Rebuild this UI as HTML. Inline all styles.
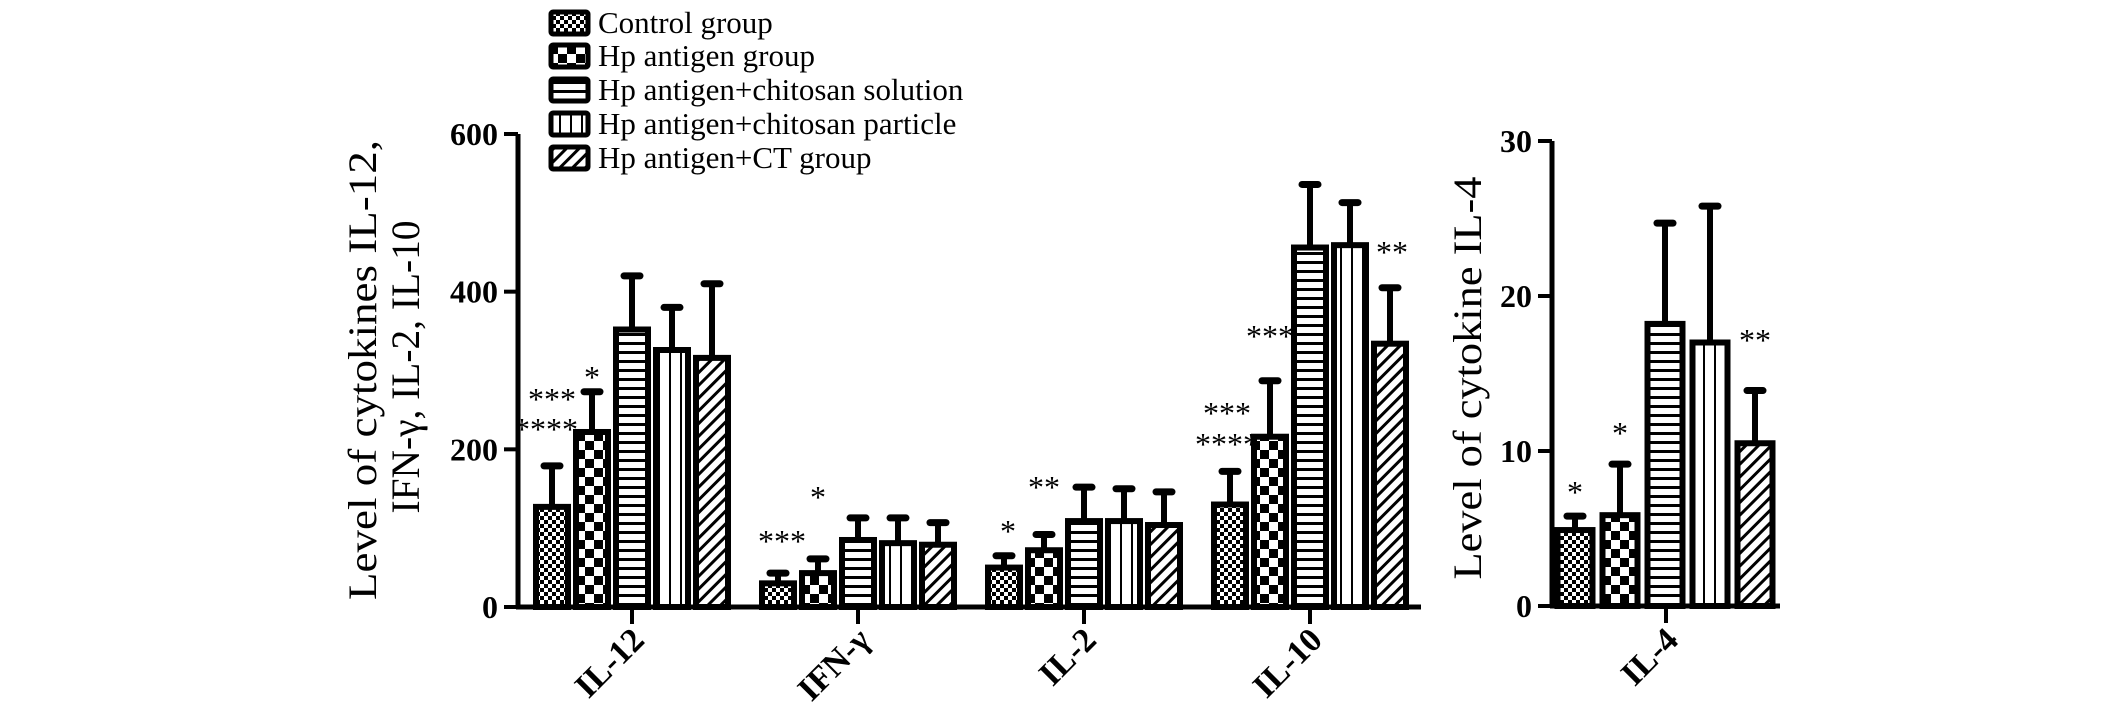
<!DOCTYPE html>
<html><head><meta charset="utf-8"><style>
html,body{margin:0;padding:0;background:#fff;}
svg{display:block;font-family:"Liberation Serif","DejaVu Serif",serif;}
</style></head><body>
<svg id="chart" width="2126" height="714" viewBox="0 0 2126 714">
<defs>
<pattern id="p0" width="8" height="8" patternUnits="userSpaceOnUse"><rect width="8" height="8" fill="#fff"/><rect width="4" height="4" fill="#000"/><rect x="4" y="4" width="4" height="4" fill="#000"/></pattern>
<pattern id="p1" width="18" height="18" patternUnits="userSpaceOnUse"><rect width="18" height="18" fill="#fff"/><rect width="9" height="9" fill="#000"/><rect x="9" y="9" width="9" height="9" fill="#000"/></pattern>
<pattern id="p2" width="10" height="9" patternUnits="userSpaceOnUse"><rect width="10" height="9" fill="#fff"/><rect width="10" height="3" fill="#000"/></pattern>
<pattern id="p3" width="11" height="10" patternUnits="userSpaceOnUse"><rect width="11" height="10" fill="#fff"/><rect x="9" width="3" height="10" fill="#000"/></pattern>
<pattern id="p4" width="9" height="9" patternUnits="userSpaceOnUse" patternTransform="rotate(45)"><rect width="9" height="9" fill="#fff"/><rect width="3" height="9" fill="#000"/></pattern>
</defs>
<g id="plot"></g>
</svg>
<script>
const categories = ["IL-12","IFN-γ","IL-2","IL-10"];
const groups = ["Control group","Hp antigen group","Hp antigen+chitosan solution","Hp antigen+chitosan particle","Hp antigen+CT group"];
const means = [[127,222,352,326,316],[30,43,85,81,79],[50,72,109,109,104],[130,216,456,459,334]];
const errs  = [[179,273,420,380,410],[43,61,113,113,107],[65,92,152,150,146],[172,287,536,513,405]];
const il4Means = [4.9,5.86,18.2,17.0,10.5];
const il4Errs  = [5.8,9.15,24.7,25.8,13.9];
const leftTicks = [0,200,400,600];
const rightTicks = [0,10,20,30];
const sigRight = [["*",0],["*",1],["**",4]];

const NS="http://www.w3.org/2000/svg";
const g=document.getElementById('plot');
function el(t,a,txt){const e=document.createElementNS(NS,t);for(const k in a)e.setAttribute(k,a[k]);if(txt!=null)e.textContent=txt;g.appendChild(e);return e;}
const yL=v=>607-v*473/600;
const yR=v=>606-v*15.5;
const xL=(c,i)=>632+c*226+(i-2)*40;
const xR=i=>1665+(i-2)*45;

function bar(x,w,top,errTop,base,pi,name){
  const l=el('line',{x1:x,x2:x,y1:top,y2:errTop,stroke:'#000','stroke-width':6});
  
  
  const c=el('line',{x1:x-8,x2:x+8,y1:errTop,y2:errTop,stroke:'#000','stroke-width':7,'stroke-linecap':'round'});
  
  
  const r=el('rect',{x:x-w/2,y:top,width:w,height:base-top,fill:'url(#p'+pi+')',stroke:'#000','stroke-width':6});
  
  
}
function star(txt,x,yc){const t=el('text',{x:x,y:yc+17,'font-size':32,'text-anchor':'middle'},txt);
  
  }

let a=el('line',{x1:518,x2:518,y1:yL(600),y2:609,stroke:'#000','stroke-width':5});


a=el('line',{x1:516,x2:1421,y1:607,y2:607,stroke:'#000','stroke-width':5});


leftTicks.forEach(v=>{
  el('line',{x1:504,x2:518,y1:yL(v),y2:yL(v),stroke:'#000','stroke-width':4});
  const t=el('text',{x:498,y:yL(v)+11,'font-size':32,'font-weight':'bold','text-anchor':'end'},String(v));
  
  
});
categories.forEach((c,ci)=>{
  const cx=632+ci*226;
  el('line',{x1:cx,x2:cx,y1:607,y2:624,stroke:'#000','stroke-width':4});
  const t=el('text',{x:cx+14,y:642,'font-size':34,'font-weight':'bold','text-anchor':'end',transform:'rotate(-45 '+(cx+14)+' 642)'},c);
  
  
  means[ci].forEach((m,i)=>bar(xL(ci,i),32,yL(m),yL(errs[ci][i]),607,i,'bar-'+ci+'-'+i));
});
star("***",552,393);star("****",546,423);star("*",592,371);
star("***",782,535);star("*",818,491);
star("*",1008,525);star("**",1044,481);
star("***",1227,407);star("****",1227,438);star("***",1270,330);star("**",1392,246);

a=el('line',{x1:1552,x2:1552,y1:yR(30),y2:608,stroke:'#000','stroke-width':5});


a=el('line',{x1:1550,x2:1780,y1:606,y2:606,stroke:'#000','stroke-width':5});


rightTicks.forEach(v=>{
  el('line',{x1:1538,x2:1552,y1:yR(v),y2:yR(v),stroke:'#000','stroke-width':4});
  const t=el('text',{x:1532,y:yR(v)+11,'font-size':32,'font-weight':'bold','text-anchor':'end'},String(v));
  
  
});
el('line',{x1:1666,x2:1666,y1:606,y2:623,stroke:'#000','stroke-width':4});
let t4=el('text',{x:1680,y:642,'font-size':34,'font-weight':'bold','text-anchor':'end',transform:'rotate(-45 1680 642)'},'IL-4');


il4Means.forEach((m,i)=>bar(xR(i),35,yR(m),yR(il4Errs[i]),606,i,'il4-bar-'+i));
sigRight.forEach(s=>star(s[0],xR(s[1]),s[0]==="**"?334:(s[1]===0?486:427)));

let yt=el('text',{x:0,y:0,'font-size':40,'text-anchor':'middle',transform:'translate(376 370) rotate(-90)',textLength:460,lengthAdjust:'spacingAndGlyphs'},'Level of cytokines IL-12,');


yt=el('text',{x:0,y:0,'font-size':40,'text-anchor':'middle',transform:'translate(419 367) rotate(-90)',textLength:293,lengthAdjust:'spacingAndGlyphs'},'IFN-γ, IL-2, IL-10');


yt=el('text',{x:0,y:0,'font-size':40,'text-anchor':'middle',transform:'translate(1481 378) rotate(-90)',textLength:403,lengthAdjust:'spacingAndGlyphs'},'Level of cytokine IL-4');



const legY=[23,56,90,124,158];
groups.forEach((name,i)=>{
  const r=el('rect',{x:551,y:legY[i]-11,width:37,height:22,fill:'url(#p'+i+')',stroke:'#000','stroke-width':5,rx:2});
  
  
  const t=el('text',{x:598,y:legY[i]+10,'font-size':31},name);
  
  
});
</script>
</body></html>
